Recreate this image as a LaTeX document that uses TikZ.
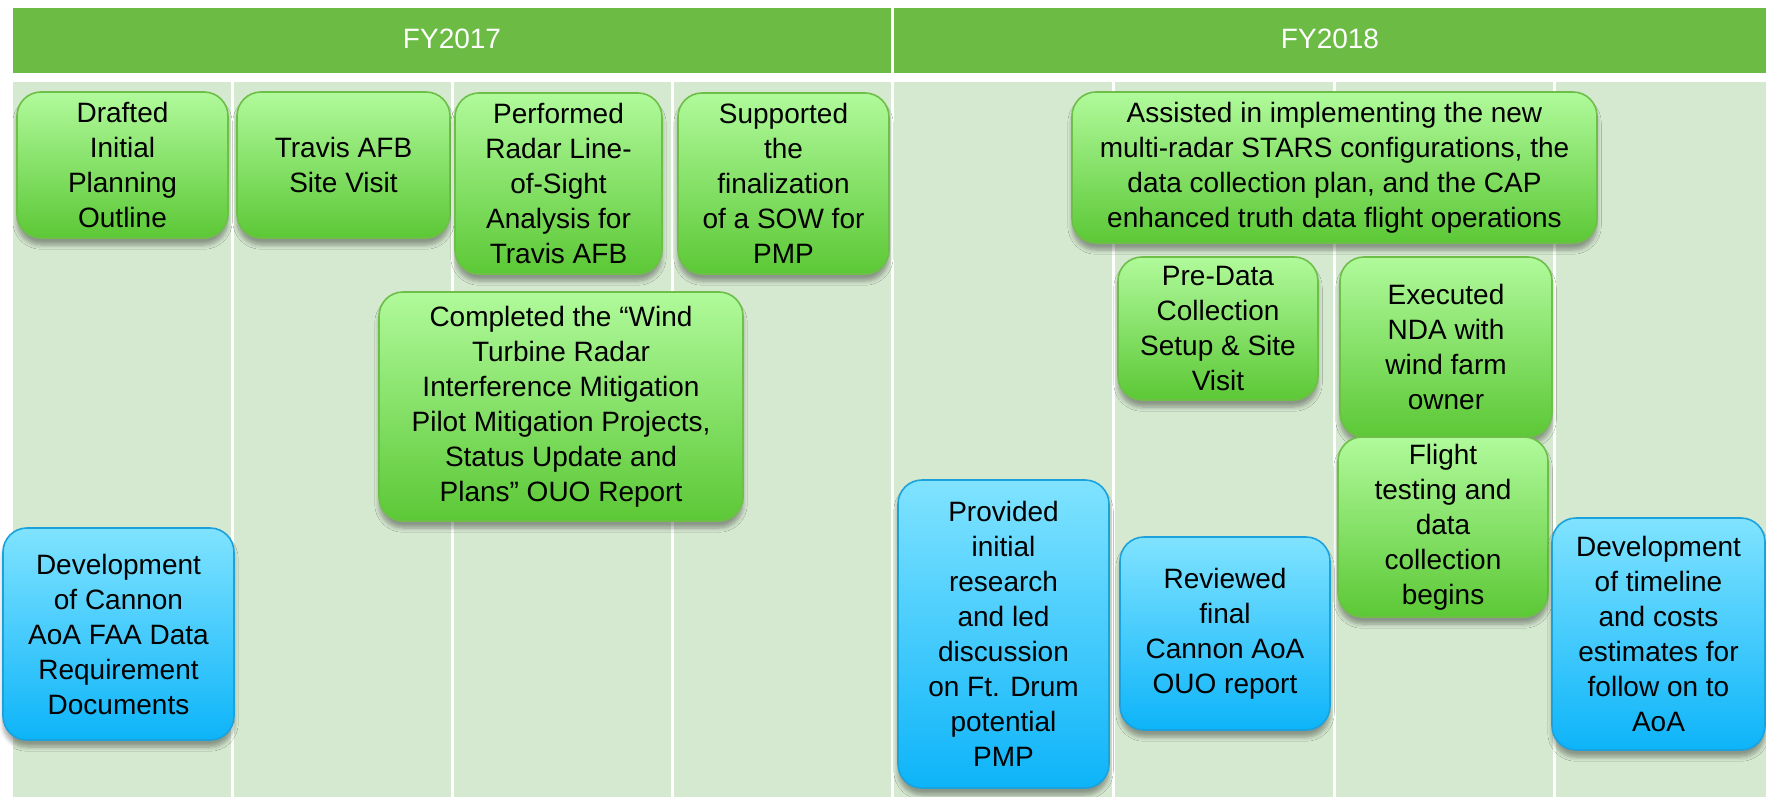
\documentclass[tikz,border=0pt]{standalone}
\usepackage{fontspec}
\setmainfont{Liberation Sans}
\usetikzlibrary{shadows.blur}
\definecolor{hdr}{HTML}{6BBB45}
\definecolor{colbg}{HTML}{D5E8D0}
\definecolor{gtop}{HTML}{B0FA9B}
\definecolor{gbot}{HTML}{5CC836}
\definecolor{gbrd}{HTML}{6DBF48}
\definecolor{btop}{HTML}{80E3FF}
\definecolor{bbot}{HTML}{0DB4F9}
\definecolor{bbrd}{HTML}{1BA2DC}
\tikzset{
  txt/.style={font=\fontsize{14}{17.5}\selectfont, align=center, text=black},
  boxbase/.style={txt, rounded corners=12pt, inner sep=0pt, line width=0.8pt,
    blur shadow={shadow xshift=0pt, shadow yshift=-3.5pt, shadow blur steps=6, shadow opacity=35}},
  gbox/.style={boxbase, draw=gbrd, top color=gtop, bottom color=gbot},
  bbox/.style={boxbase, draw=bbrd, top color=btop, bottom color=bbot},
  hdrbox/.style={fill=hdr, draw=none},
  sep/.style={white, line width=1.5pt}
}
\begin{document}
\begin{tikzpicture}[x=0.5pt, y=-0.5pt]
\useasboundingbox (0,0) rectangle (1766,797);
% background columns
\fill[colbg] (13,82) rectangle (1766,797);
\foreach \xx in {232.5,452.5,672.5,892.5,1113.5,1334.5,1554.5}
  \draw[sep] (\xx,82) -- (\xx,797);
% headers
\fill[hdrbox] (13,8) rectangle (891,73);
\fill[hdrbox] (894,8) rectangle (1766,73);
\node[txt, text=white] (fy17) at (452,39) {FY2017};
\node[txt, text=white] (fy18) at (1330,39) {FY2018};
% FY2017 boxes
\node[gbox, minimum width=105.5pt, minimum height=73pt] (b1) at (122.5,165) {Drafted\\Initial\\Planning\\Outline};
\node[gbox, minimum width=106.5pt, minimum height=73pt] (b2) at (343.5,165) {Travis AFB\\Site Visit};
\node[gbox, minimum width=103.5pt, minimum height=90.5pt] (b3) at (558.5,183.5) {Performed\\Radar Line-\\of-Sight\\Analysis for\\Travis AFB};
\node[gbox, minimum width=105.5pt, minimum height=90.5pt] (b4) at (783.5,183.5) {Supported\\the\\finalization\\of a SOW for\\PMP};
\node[gbox, minimum width=182pt, minimum height=114.5pt] (b5) at (561,406.5) {Completed the “Wind\\Turbine Radar\\Interference Mitigation\\Pilot Mitigation Projects,\\Status Update and\\Plans” OUO Report};
\node[bbox, minimum width=115.5pt, minimum height=106pt] (b6) at (118.5,634) {Development\\of Cannon\\AoA FAA Data\\Requirement\\Documents};
% FY2018 boxes
\node[gbox, minimum width=262.5pt, minimum height=75.5pt] (b7) at (1334.5,167.5) {Assisted in implementing the new\\multi-radar STARS configurations, the\\data collection plan, and the CAP\\enhanced truth data flight operations};
\node[gbox, minimum width=100pt, minimum height=71.5pt] (b8) at (1218,328.5) {Pre-Data\\Collection\\Setup \& Site\\Visit};
\node[gbox, minimum width=106pt, minimum height=90pt] (b9) at (1446,347) {Executed\\NDA with\\wind farm\\owner};
\node[gbox, minimum width=105pt, minimum height=90pt] (b10) at (1443,527) {Flight\\testing and\\data\\collection\\begins};
\node[bbox, minimum width=105.5pt, minimum height=154pt] (b11) at (1003.5,634) {Provided\\initial\\research\\and led\\discussion\\on Ft. Drum\\potential\\PMP};
\node[bbox, minimum width=105pt, minimum height=96.5pt] (b12) at (1225,633.5) {Reviewed\\final\\Cannon AoA\\OUO report};
\node[bbox, minimum width=106.5pt, minimum height=116pt] (b13) at (1658.5,634) {Development\\of timeline\\and costs\\estimates for\\follow on to\\AoA};
\end{tikzpicture}
\end{document}
